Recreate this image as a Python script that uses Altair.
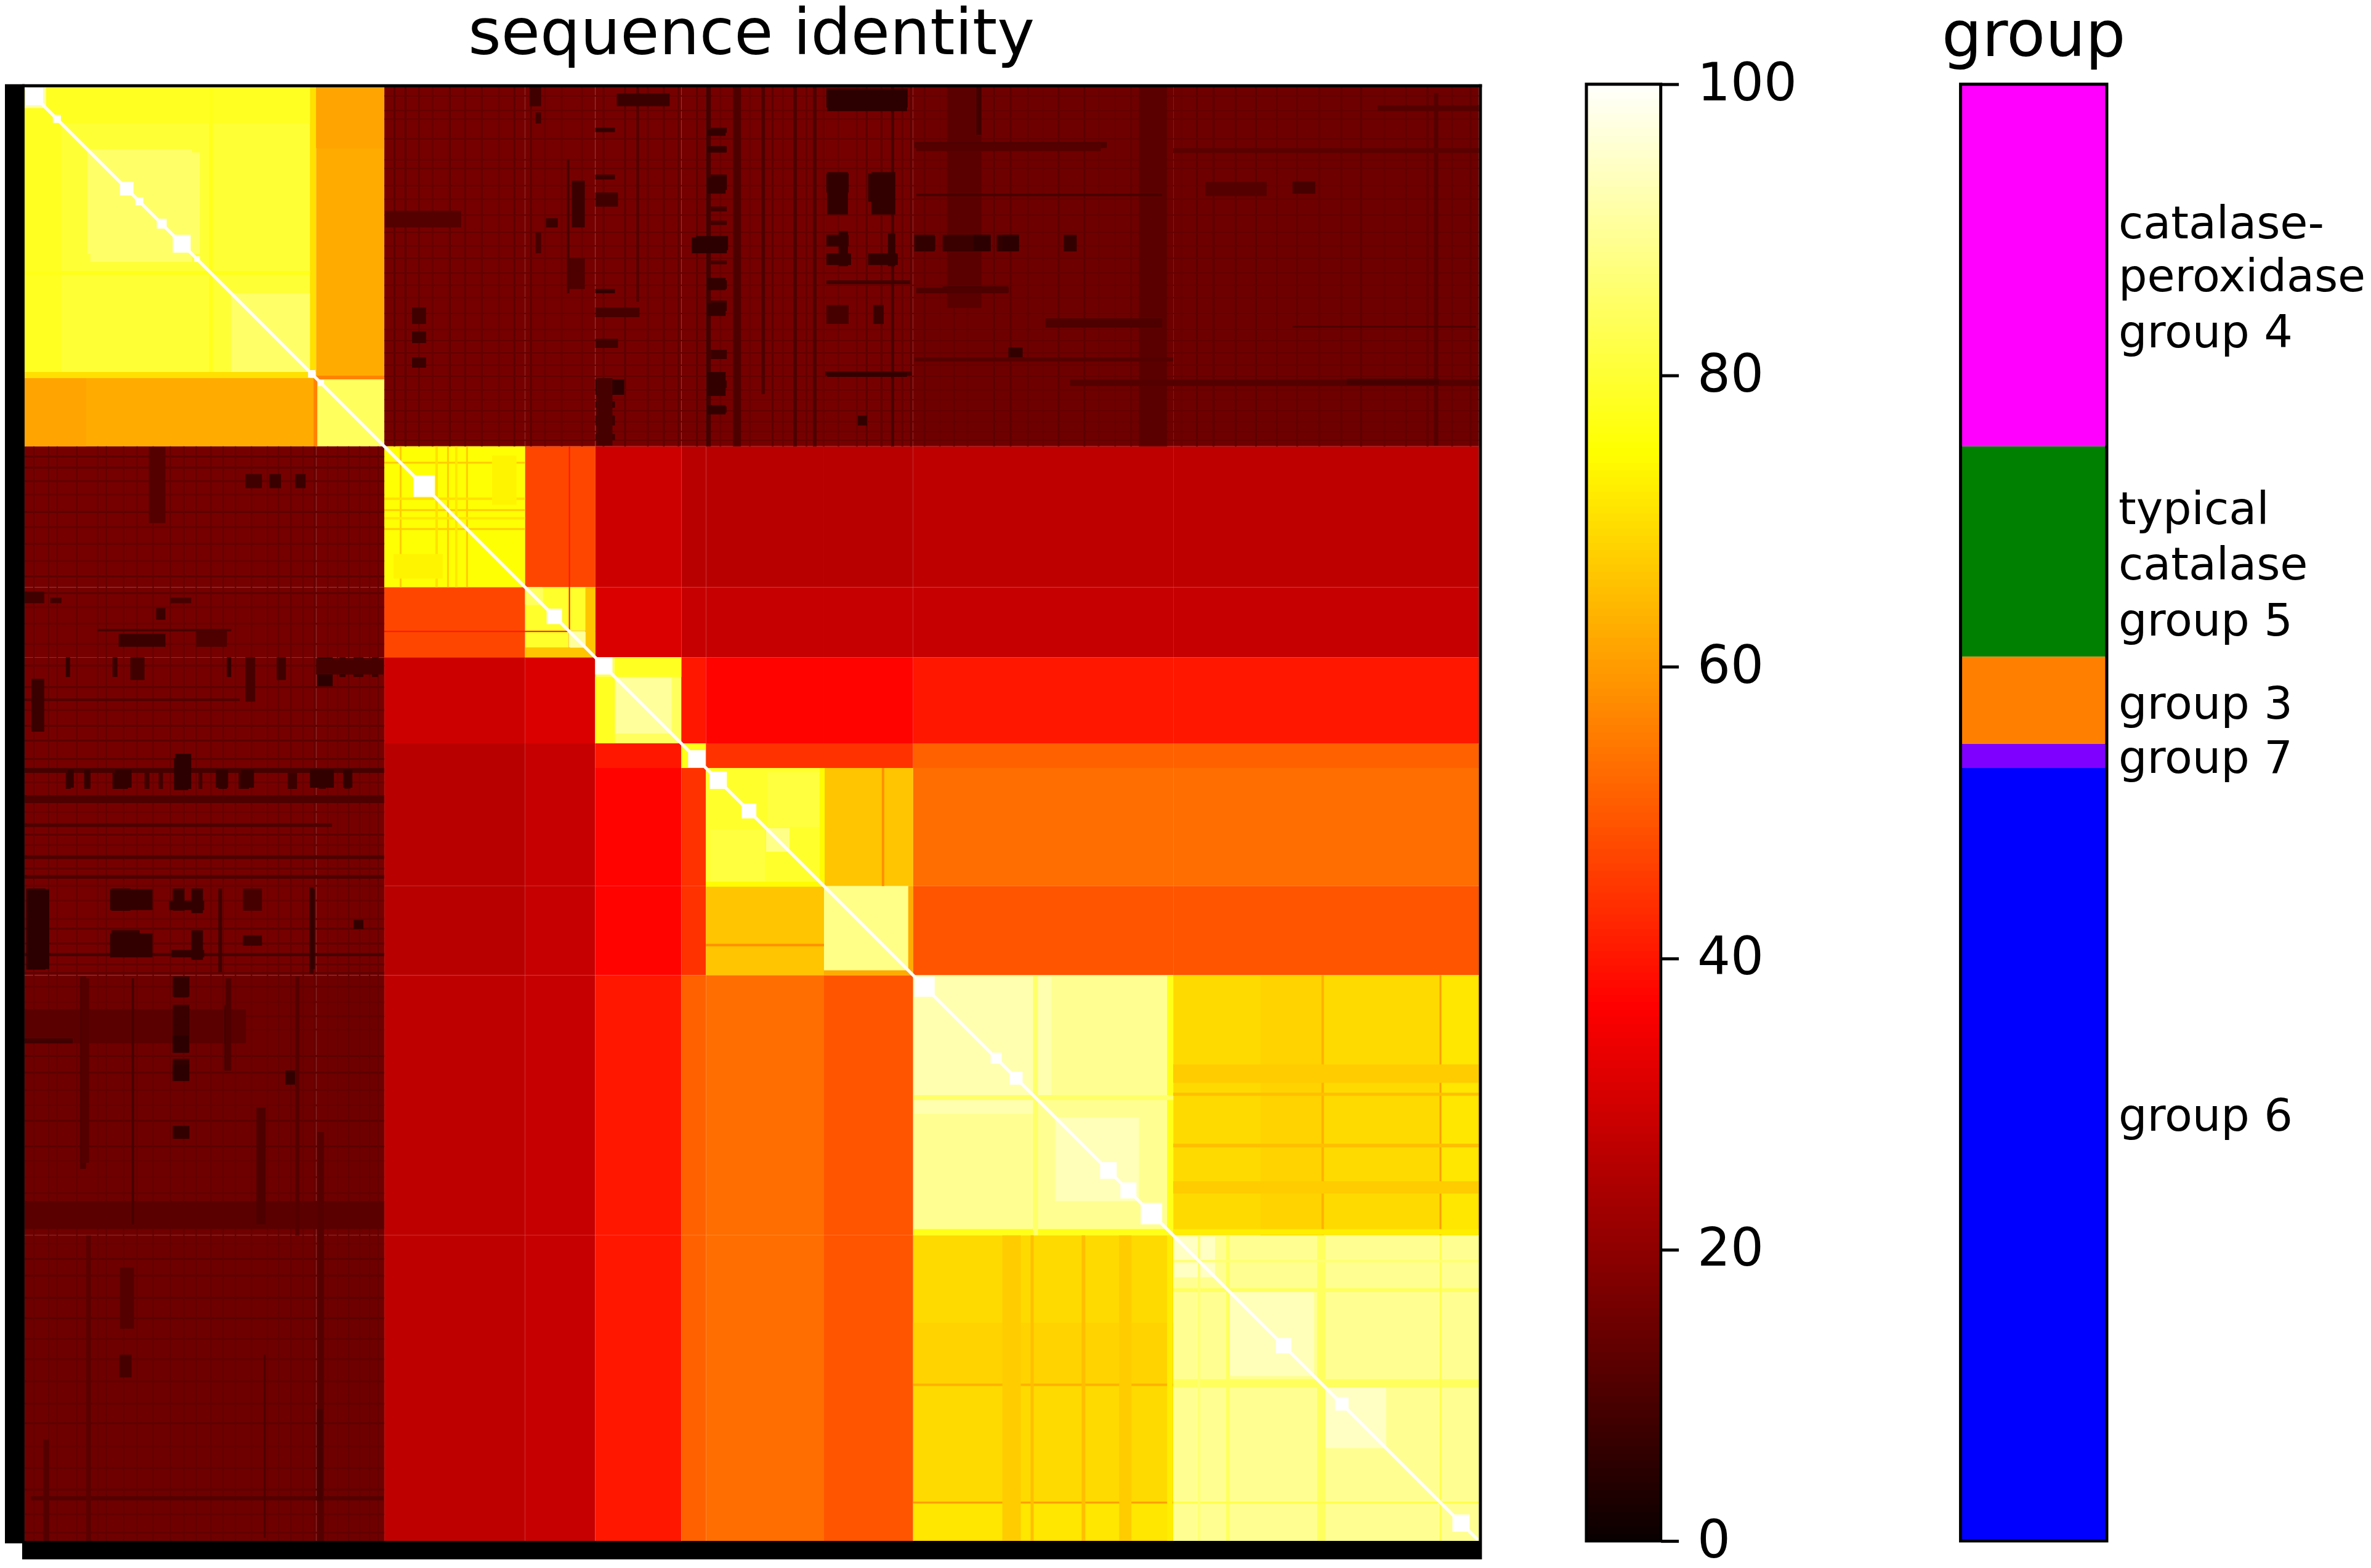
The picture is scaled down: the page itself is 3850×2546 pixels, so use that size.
import altair as alt
import pandas as pd

FONT = "DejaVu Sans"

# block edges of the clustered matrix (sequence index)
EDGES = [0, 474, 585, 814, 928, 1068, 1108, 1300, 1445, 1868, 2365]

# mean identity per block pair
BLOCKS = [
    [80, 62, 16, 16, 16, 16, 16, 16, 15, 15],
    [62, 84, 16, 16, 16, 16, 16, 16, 15, 15],
    [16, 16, 75, 47, 29, 26, 26, 26, 27, 27],
    [16, 16, 47, 79, 31, 28, 28, 28, 28, 28],
    [16, 16, 29, 31, 84, 40, 37, 37, 40, 40],
    [16, 16, 26, 28, 40, 77, 44, 44, 51, 51],
    [16, 16, 26, 28, 37, 44, 79, 66, 53, 53],
    [16, 16, 26, 28, 37, 44, 66, 88, 49, 49],
    [15, 15, 27, 28, 40, 51, 53, 49, 89, 69],
    [15, 15, 27, 28, 40, 51, 53, 49, 69, 89],
]

# sub-structure: col from, col to, row from, row to, identity (also drawn mirrored)
PATCHES = [
    (464, 474, 0, 464, 70), (0, 60, 0, 464, 78), (474, 585, 0, 100, 61),
    (107, 272, 102, 285, 85), (336, 464, 336, 459, 85), (0, 33, 0, 35, 91),
    (0, 464, 300, 306, 77), (474, 585, 470, 476, 56),
    (610, 613, 585, 814, 67), (585, 814, 687, 690, 67), (585, 814, 718, 721, 67),
    (668, 672, 585, 814, 70), (700, 704, 585, 814, 71), (760, 800, 600, 680, 73),
    (885, 887, 585, 814, 40), (814, 928, 885, 887, 40),
    (912, 928, 814, 928, 66), (814, 912, 914, 928, 66), (814, 843, 815, 842, 84),
    (885, 912, 887, 912, 90), (960, 1052, 958, 1052, 90), (928, 960, 960, 1068, 78),
    (1208, 1293, 1115, 1204, 81), (1108, 1300, 1293, 1301, 75), (1293, 1300, 1108, 1293, 74),
    (1206, 1244, 1206, 1244, 88), (1437, 1445, 1300, 1445, 62), (1300, 1437, 1438, 1445, 62),
    (1394, 1398, 1108, 1300, 58),
    (1447, 1640, 1470, 1670, 92), (1676, 1812, 1679, 1812, 93), (1446, 1868, 1858, 1867, 77),
    (1858, 1868, 1446, 1858, 77), (1446, 1868, 1640, 1648, 85),
    (2010, 2109, 1445, 1868, 68), (2109, 2113, 1445, 1868, 63), (2304, 2363, 1445, 1868, 71),
    (2301, 2304, 1445, 1868, 60), (1868, 2365, 1719, 1725, 65), (1868, 2365, 1636, 1641, 65),
    (1868, 2365, 1590, 1620, 67), (1868, 2365, 1780, 1800, 67), (1868, 2365, 1858, 1867, 72),
    (1871, 1936, 1870, 1935, 94), (1960, 2097, 1963, 2096, 93), (2115, 2214, 2121, 2214, 94),
    (1868, 2365, 2102, 2115, 84), (1954, 1960, 1868, 2365, 84), (2109, 2115, 1868, 2365, 84),
    (2301, 2304, 1868, 2365, 82), (1868, 2365, 1908, 1912, 86),
]

# dark streaks of the low-identity corner: col from, col to, row from, row to, identity
STREAKS = [
    (1108, 1116, 0, 585, 9), (1152, 1165, 0, 585, 10), (1198, 1204, 0, 500, 10),
    (1250, 1256, 0, 585, 10), (1282, 1288, 0, 585, 10), (1409, 1414, 0, 585, 9),
    (882, 886, 118, 336, 9), (995, 999, 0, 350, 10), (1812, 1858, 0, 585, 12),
    (1500, 1556, 0, 360, 12), (1548, 1556, 0, 78, 8), (2292, 2299, 10, 584, 11),
    (963, 1049, 11, 32, 7), (890, 911, 153, 229, 7), (885, 911, 279, 329, 10),
    (928, 960, 67, 74, 6), (928, 960, 143, 151, 7), (928, 965, 172, 195, 8),
    (928, 960, 329, 336, 6), (928, 1000, 359, 375, 9), (928, 965, 410, 425, 8),
    (928, 975, 476, 501, 5), (928, 960, 512, 522, 6), (928, 960, 535, 551, 7),
    (928, 960, 565, 575, 7), (1116, 1142, 67, 75, 7), (1116, 1142, 97, 107, 7),
    (1116, 1142, 143, 168, 6), (1116, 1142, 195, 203, 8), (1116, 1142, 218, 225, 8),
    (1085, 1142, 245, 271, 5), (1116, 1142, 283, 289, 8), (1116, 1142, 315, 329, 6),
    (1116, 1142, 348, 365, 7), (1116, 1142, 428, 443, 7), (1116, 1142, 478, 490, 8),
    (1116, 1142, 520, 530, 9), (586, 710, 202, 229, 11), (630, 653, 359, 386, 8),
    (630, 653, 398, 417, 7), (630, 653, 440, 457, 7), (821, 840, 0, 32, 8),
    (831, 840, 42, 60, 8), (831, 840, 237, 271, 9), (848, 867, 214, 229, 7),
    (1304, 1436, 3, 34, 5), (1304, 1340, 141, 172, 5), (1372, 1413, 141, 187, 6),
    (1304, 1344, 271, 290, 6), (1372, 1420, 271, 290, 6), (1447, 1480, 241, 268, 6),
    (1493, 1571, 241, 268, 7), (1581, 1617, 241, 268, 6), (1690, 1711, 241, 268, 6),
    (1304, 1340, 241, 260, 6), (1304, 1440, 315, 321, 8), (1493, 1600, 325, 335, 8),
    (1380, 1397, 355, 386, 7), (1600, 1623, 424, 440, 6), (1355, 1370, 535, 551, 6),
    (1302, 1443, 463, 470, 8), (1447, 1760, 90, 100, 10), (1304, 1340, 355, 386, 9),
    (930, 956, 474, 584, 9), (1092, 1144, 243, 266, 5), (1110, 1140, 70, 80, 6),
    (1110, 1140, 97, 107, 6), (1110, 1140, 147, 174, 6), (1110, 1140, 311, 331, 6),
    (1110, 1140, 352, 373, 6), (1110, 1140, 464, 503, 6), (1110, 1140, 518, 533, 6),
    (1305, 1435, 5, 40, 5), (1305, 1339, 139, 208, 6), (1377, 1416, 139, 208, 6),
    (1324, 1339, 235, 292, 6), (1404, 1416, 239, 292, 6), (1450, 1481, 243, 266, 6),
    (1305, 1435, 465, 472, 6), (1543, 1571, 241, 267, 5), (1590, 1617, 241, 267, 5),
    (1450, 1750, 93, 105, 11), (1450, 1600, 327, 336, 10), (1700, 2365, 476, 487, 11),
    (1450, 1850, 174, 178, 9), (1660, 1850, 377, 392, 10), (1920, 2020, 155, 178, 11),
    (2062, 2360, 389, 392, 10), (2150, 2300, 475, 485, 9), (2062, 2099, 154, 174, 9),
    (1868, 2365, 100, 108, 12), (1447, 1868, 440, 447, 11), (2200, 2365, 30, 40, 11),
]

# thin full-length streak positions in the same corner
THIN_COLS = [
    600, 618, 640, 662, 690, 715, 742, 770, 795, 822, 845, 872, 905, 940, 975, 1012, 1038,
    1062, 1092, 1130, 1178, 1215, 1232, 1270, 1298, 1322, 1352, 1368, 1392, 1426, 1440,
    1462, 1487, 1510, 1532, 1575, 1602, 1630, 1655, 1680, 1722, 1745, 1772, 1798, 1880,
    1905, 1932, 1968, 2001, 2035, 2068, 2104, 2140, 2172, 2210, 2245, 2280, 2320, 2350,
]
THIN_ROWS = [
    14, 38, 52, 84, 118, 132, 160, 182, 208, 236, 258, 278, 302, 322, 342, 368, 394, 412,
    432, 452, 470, 492, 508, 526, 544, 560, 574,
]

# near-identical clusters sitting on the diagonal: start, end
WHITE_SQUARES = [
    (2, 30), (46, 59), (155, 177), (180, 193), (215, 231), (241, 270), (276, 285),
    (461, 473), (477, 487), (632, 667), (849, 874), (928, 956), (1079, 1107),
    (1114, 1142), (1166, 1190), (1447, 1480), (1571, 1589), (1602, 1623), (1749, 1776),
    (1782, 1808), (1815, 1850), (2035, 2060), (2131, 2153), (2322, 2350),
]
DIAGONAL = [0, 2363]

# black strips left and below the matrix plus its thin frame
FRAME = [
    (-32, 0, -4, 2369), (-4, 2370, 2365, 2395), (-4, 2370, -4, 1), (2365, 2370, -4, 2365),
]

HOT_STOPS = [0, 36.5, 74.6, 100]
HOT_COLORS = ["#0b0000", "#ff0000", "#ffff00", "#ffffff"]
COLORBAR_TICKS = [0, 20, 40, 60, 80, 100]

GROUP_NAMES = ["group 4", "group 5", "group 3", "group 7", "group 6"]
GROUP_EDGES = [-4, 585, 927, 1069, 1108, 2365]
GROUP_COLORS = ["#ff00ff", "#008000", "#ff8000", "#8000ff", "#0000ff"]
LABEL_LINES = ["catalase-", "peroxidase", "group 4", "typical", "catalase", "group 5",
               "group 3", "group 7", "group 6"]
LABEL_ROWS = [225, 311, 402, 689, 780, 871, 1006, 1094, 1676]

hot = alt.Scale(domain=HOT_STOPS, range=HOT_COLORS, interpolate="rgb")
x_scale = alt.Scale(domain=[-32, 2370], nice=False, zero=False)
y_scale = alt.Scale(domain=[-4, 2395], nice=False, zero=False, reverse=True)


def cell_rows(items, mirror=True):
    rows = []
    for c0, c1, r0, r1, v in items:
        rows.append(dict(x0=c0, x1=c1, y0=r0, y1=r1, value=v))
        if mirror:
            rows.append(dict(x0=r0, x1=r1, y0=c0, y1=c1, value=v))
    return pd.DataFrame(rows)


def rects(data):
    return (
        alt.Chart(data)
        .mark_rect()
        .encode(
            x=alt.X("x0:Q", scale=x_scale, axis=None),
            x2="x1:Q",
            y=alt.Y("y0:Q", scale=y_scale, axis=None),
            y2="y1:Q",
            color=alt.Color("value:Q", scale=hot, legend=None),
        )
    )


block_items = []
for i in range(len(BLOCKS)):
    for j in range(len(BLOCKS)):
        block_items.append((EDGES[j], EDGES[j + 1], EDGES[i], EDGES[i + 1], BLOCKS[i][j]))

thin_items = [(c, c + 3, 0, 585, 12 + c % 3) for c in THIN_COLS]
thin_items += [(585, 2365, r, r + 2, 13) for r in THIN_ROWS]

diagonal = (
    alt.Chart(pd.DataFrame({"pos": DIAGONAL}))
    .mark_line(color="white", strokeWidth=5)
    .encode(
        x=alt.X("pos:Q", scale=x_scale, axis=None),
        y=alt.Y("pos:Q", scale=y_scale, axis=None),
    )
)
squares = rects(cell_rows([(a, b, a, b, 100) for a, b in WHITE_SQUARES], mirror=False))
frame = (
    alt.Chart(pd.DataFrame(FRAME, columns=["x0", "x1", "y0", "y1"]))
    .mark_rect(color="black")
    .encode(
        x=alt.X("x0:Q", scale=x_scale, axis=None),
        x2="x1:Q",
        y=alt.Y("y0:Q", scale=y_scale, axis=None),
        y2="y1:Q",
    )
)

matrix = alt.layer(
    rects(cell_rows(block_items, mirror=False)),
    rects(cell_rows(PATCHES)),
    rects(cell_rows(thin_items)),
    rects(cell_rows(STREAKS)),
    diagonal,
    squares,
    frame,
).properties(
    width=2404,
    height=2401,
    title=alt.TitleParams(
        "sequence identity", fontSize=103, font=FONT, fontWeight="normal",
        anchor="middle", dx=13, offset=-60, baseline="alphabetic", color="black",
    ),
)

# colour bar: one thin slice per half percent
levels = [v * 0.5 for v in range(200)]
bar_data = pd.DataFrame({"value": levels, "top": [v + 0.75 for v in levels]})
colorbar_fill = (
    alt.Chart(bar_data)
    .mark_rect()
    .encode(
        x=alt.value(0),
        x2=alt.value(121),
        y=alt.Y(
            "value:Q",
            scale=alt.Scale(domain=[0, 100], nice=False),
            axis=alt.Axis(
                orient="right", values=COLORBAR_TICKS, title=None, grid=False, domain=False,
                tickSize=29, tickWidth=5, tickColor="black", labelFontSize=85,
                labelFont=FONT, labelColor="black", labelPadding=30,
            ),
        ),
        y2="top:Q",
        color=alt.Color("value:Q", scale=hot, legend=None),
    )
)
one_row = pd.DataFrame({"a": [0]})
colorbar_frame = (
    alt.Chart(one_row)
    .mark_rect(filled=False, stroke="black", strokeWidth=5)
    .encode(x=alt.value(0), x2=alt.value(121), y=alt.value(0), y2=alt.value(2371))
)
colorbar = alt.layer(colorbar_fill, colorbar_frame).properties(width=121, height=2371)

# group strip with its labels
group_scale = alt.Scale(domain=[-4, 2365], nice=False, zero=False, reverse=True)
group_data = pd.DataFrame(
    {"name": GROUP_NAMES, "start": GROUP_EDGES[:-1], "end": GROUP_EDGES[1:]}
)
group_fill = (
    alt.Chart(group_data)
    .mark_rect()
    .encode(
        x=alt.value(318),
        x2=alt.value(556),
        y=alt.Y("start:Q", scale=group_scale, axis=None),
        y2="end:Q",
        color=alt.Color(
            "name:N", scale=alt.Scale(domain=GROUP_NAMES, range=GROUP_COLORS), legend=None
        ),
    )
)
group_frame = (
    alt.Chart(one_row)
    .mark_rect(filled=False, stroke="black", strokeWidth=5)
    .encode(x=alt.value(318), x2=alt.value(556), y=alt.value(0), y2=alt.value(2371))
)
group_text = (
    alt.Chart(pd.DataFrame({"line": LABEL_LINES, "row": LABEL_ROWS}))
    .mark_text(align="left", baseline="middle", font=FONT, fontSize=73.5, color="black")
    .encode(
        x=alt.value(575),
        y=alt.Y("row:Q", scale=group_scale, axis=None),
        text="line:N",
    )
)
groups = alt.layer(group_fill, group_frame, group_text).properties(
    width=960,
    height=2371,
    title=alt.TitleParams(
        "group", fontSize=103, font=FONT, fontWeight="normal", anchor="middle",
        dx=-43, offset=-60, baseline="alphabetic", color="black",
    ),
)

chart = (
    alt.hconcat(matrix, colorbar, groups, spacing=170, bounds="flush")
    .resolve_scale(color="independent", x="independent", y="independent")
    .configure_view(strokeWidth=0)
    .properties(
        padding={"left": 0, "top": -5, "right": 0, "bottom": 0},
        background="white",
    )
)

chart.save("out.html", embed_options={"renderer": "svg", "actions": False})
